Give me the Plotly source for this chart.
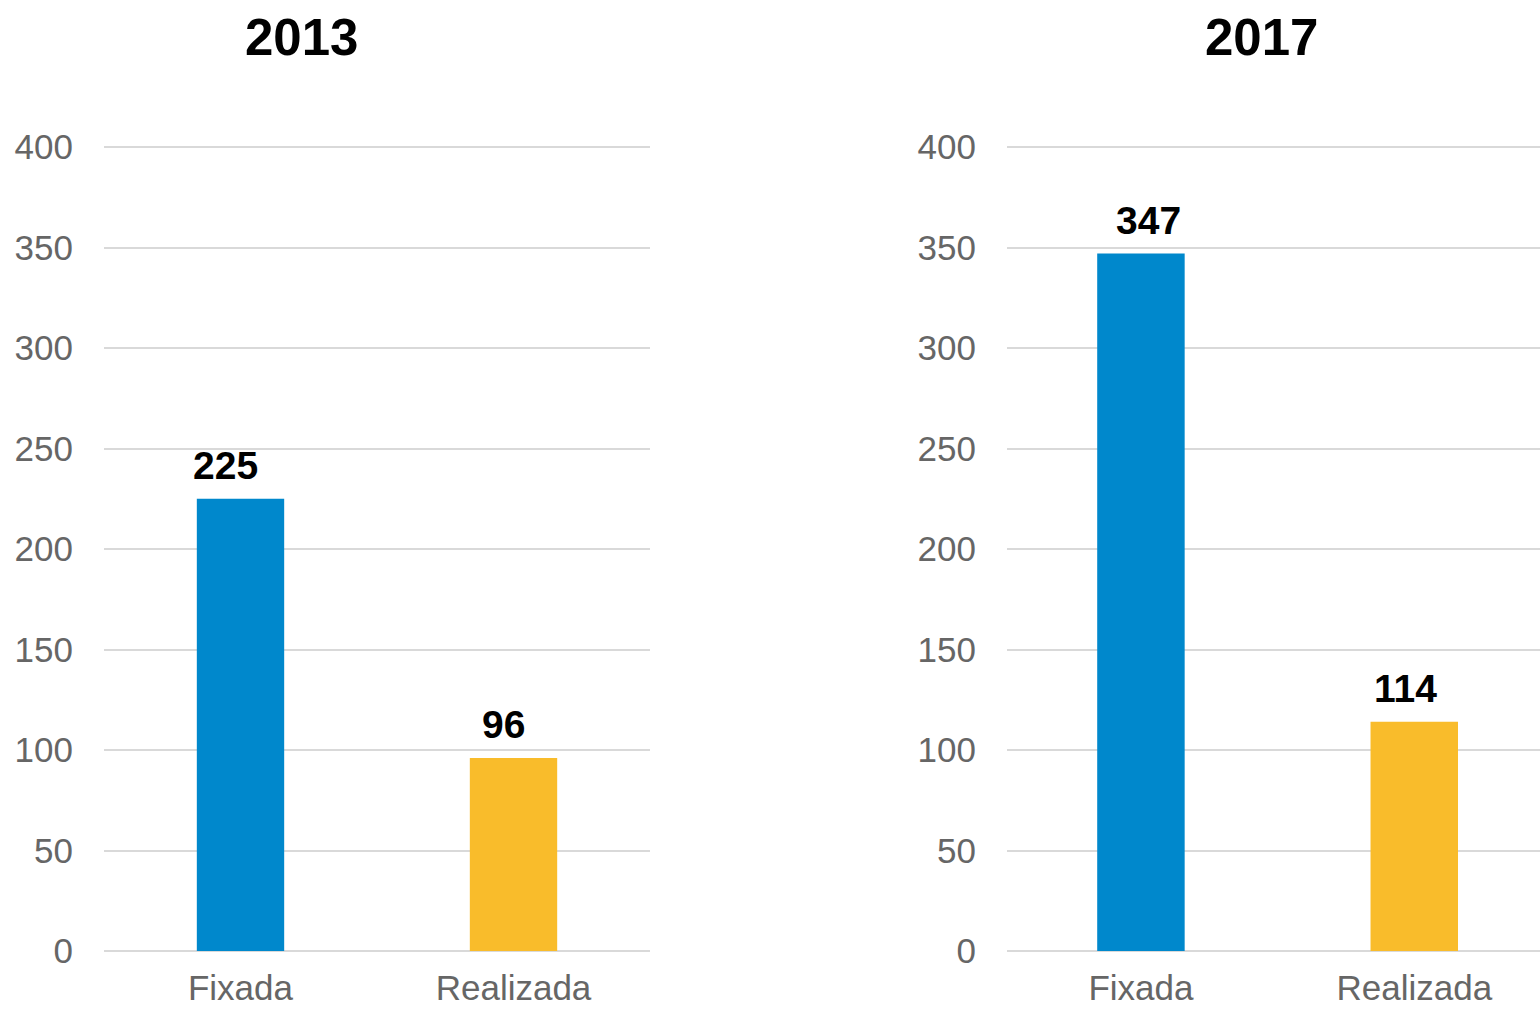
import plotly.graph_objects as go

categories = ["Fixada", "Realizada"]
values_2013 = [225, 96]
values_2017 = [347, 114]
panel_titles = ["2013", "2017"]
bar_colors = ["#0088CC", "#F9BC2B"]
y_ticks = [0, 50, 100, 150, 200, 250, 300, 350, 400]

W, H = 1540, 1010
FONT = "Liberation Sans, Arial, sans-serif"

def px_x(p):
    return p / W

def px_y(p):
    return 1 - p / H

fig = go.Figure()

fig.add_trace(go.Bar(x=categories, y=values_2013, marker=dict(color=bar_colors, line=dict(width=0)),
                     width=0.32, xaxis="x", yaxis="y", showlegend=False, hoverinfo="x+y"))
fig.add_trace(go.Bar(x=categories, y=values_2017, marker=dict(color=bar_colors, line=dict(width=0)),
                     width=0.32, xaxis="x2", yaxis="y2", showlegend=False, hoverinfo="x+y"))

# y range slightly above 400 so the top gridline is drawn; 2.01 px per unit
ydom = [px_y(951), px_y(143)]
yaxis_common = dict(
    range=[0, 402], tickvals=y_ticks, showgrid=True, gridcolor="#D9D9D9", gridwidth=1.5,
    zeroline=True, zerolinecolor="#D9D9D9", zerolinewidth=2, showline=False,
    tickfont=dict(family=FONT, size=35, color="#666666"), ticks="", ticklabelstandoff=30,
    domain=ydom, fixedrange=True, automargin=False,
)
xaxis_common = dict(
    type="category", showgrid=False, zeroline=False, showline=False, ticks="",
    tickfont=dict(family=FONT, size=35, color="#666666"), ticklabelstandoff=13, fixedrange=True,
    automargin=False,
)

fig.update_layout(
    width=W, height=H,
    margin=dict(l=0, r=0, t=0, b=0, autoexpand=False),
    paper_bgcolor="white", plot_bgcolor="white",
    xaxis=dict(**xaxis_common, domain=[px_x(104), px_x(650)], range=[-0.5, 1.5], anchor="y"),
    yaxis=dict(**yaxis_common, anchor="x"),
    xaxis2=dict(**xaxis_common, domain=[px_x(1007), 1.0], range=[-0.49, 1.46], anchor="y2"),
    yaxis2=dict(**yaxis_common, anchor="x2"),
)

label_xshift = [[-15, -10], [8, -9]]

annotations = []
for (xa, ya, vals), shifts in zip([("x", "y", values_2013), ("x2", "y2", values_2017)], label_xshift):
    for c, v, s in zip(categories, vals, shifts):
        annotations.append(dict(x=c, y=v, xref=xa, yref=ya, text=f"<b>{v}</b>", showarrow=False,
                                xanchor="center", yanchor="bottom", yshift=10, xshift=s,
                                font=dict(family=FONT, size=39, color="#000000")))

for t, cx in zip(panel_titles, [301, 1261]):
    annotations.append(dict(x=px_x(cx), y=px_y(37), xref="paper", yref="paper", text=f"<b>{t}</b>",
                            showarrow=False, xanchor="center", yanchor="middle",
                            font=dict(family=FONT, size=51, color="#000000")))

fig.update_layout(annotations=annotations)

fig.write_html("out.html")
